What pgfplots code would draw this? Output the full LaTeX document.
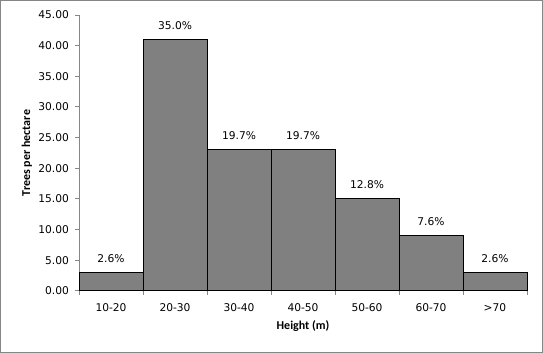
\documentclass[border=0pt]{standalone}
\usepackage{pgfplots}
\pgfplotsset{compat=1.18}
\usepackage{fontspec}
\setmainfont{DejaVu Sans}
\newfontfamily\labfont{Carlito}
\definecolor{barfill}{HTML}{808080}
\definecolor{axgray}{HTML}{868686}
\begin{document}
\begin{tikzpicture}
\draw[axgray, line width=0.75pt] (0.375pt,0.375pt) rectangle (406.875pt,264.375pt);
\begin{axis}[
  at={(59.25pt,46.5pt)}, anchor=south west,
  scale only axis, width=336pt, height=207pt,
  xmin=0.5, xmax=7.5, ymin=0, ymax=45,
  axis x line*=bottom, axis y line*=left,
  axis line style={axgray, line width=0.75pt},
  ytick={0,5,...,45},
  yticklabel style={xshift=-1pt, /pgf/number format/.cd, fixed, fixed zerofill, precision=2},
  /pgf/number format/assume math mode=true,
  xtick={1,...,7},
  xticklabels={10-20,20-30,30-40,40-50,50-60,60-70,>70},
  minor xtick={0.5,1.5,...,7.5},
  major x tick style={draw=none},
  minor tick length=3pt, major tick length=3pt,
  tick align=outside,
  every tick/.style={axgray, line width=0.75pt},
  tick label style={font=\fontsize{8}{9.5}\selectfont, black},
  xticklabel style={yshift=-3pt},
  xlabel={\labfont\bfseries\fontsize{9}{11}\selectfont Height (m)},
  ylabel={\labfont\bfseries\fontsize{9}{11}\selectfont Trees per hectare},
  xlabel style={yshift=0pt},
  ylabel style={yshift=-2pt},
  ybar, bar width=1, bar shift=0pt,
  nodes near coords={\pgfmathprintnumber[fixed,fixed zerofill,precision=1]{\pgfplotspointmeta}\%},
  point meta=explicit,
  every node near coord/.append style={font=\fontsize{8}{9.5}\selectfont, anchor=south, yshift=4pt},
  clip=false,
]
\addplot[fill=barfill, draw=black, line width=0.75pt, bar width=1] table[x=x, y=y, meta=p] {
x y p
1 3 2.6
2 41 35.0
3 23 19.7
4 23 19.7
5 15 12.8
6 9 7.6
7 3 2.6
};
\end{axis}
\end{tikzpicture}
\end{document}
